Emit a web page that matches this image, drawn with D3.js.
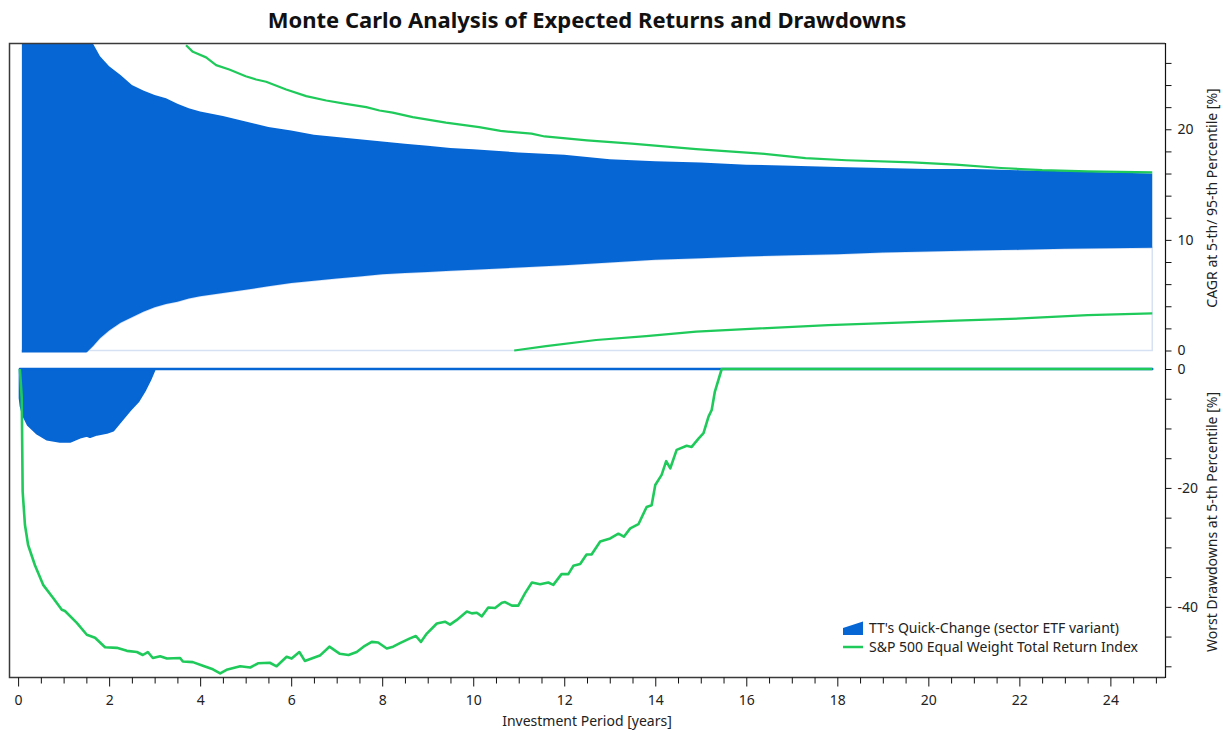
<!DOCTYPE html>
<html>
<head>
<meta charset="utf-8">
<script src="https://cdn.jsdelivr.net/npm/d3@7"></script>
<style>
  html, body { margin: 0; padding: 0; background: #ffffff; }
  svg { display: block; font-family: "Noto Sans", "Open Sans", sans-serif; }
</style>
</head>
<body>
<svg id="chart" width="1223" height="730"></svg>
<script>
// ---- Series names ----
const seriesNames = ["TT's Quick-Change (sector ETF variant)", "S&P 500 Equal Weight Total Return Index"];

// ---- CAGR band of the strategy (5th / 95th percentile, %) ----
const bandYears = [0.083, 0.25, 0.5, 0.75, 1.0, 1.25, 1.5, 1.65, 1.8, 2.0, 2.25, 2.5, 2.75, 3.0, 3.25, 3.5, 3.75, 4.0, 4.5, 5.0,
  5.5, 6.0, 6.5, 7.0, 7.5, 8.0, 8.5, 9.0, 9.5, 10.0, 11, 12, 13, 14, 15, 16, 17, 18, 19, 20, 21, 22, 23, 24, 24.92];
const cagrUpper = [45, 40, 36, 33, 31, 29.5, 28.4, 27.7, 26.6, 25.7, 24.9, 24.0, 23.5, 23.1, 22.8, 22.3, 21.9, 21.6, 21.2, 20.7,
  20.2, 19.9, 19.5, 19.3, 19.1, 18.9, 18.7, 18.5, 18.3, 18.2, 17.9, 17.7, 17.3, 17.1, 17.0, 16.8, 16.7, 16.6, 16.5, 16.4, 16.4, 16.3, 16.2, 16.1, 16.0];
const cagrLower = [-30, -18, -10, -6, -3.5, -1.8, -0.2, 0.4, 1.1, 1.8, 2.5, 3.0, 3.5, 3.9, 4.2, 4.4, 4.7, 4.9, 5.2, 5.5,
  5.8, 6.1, 6.3, 6.5, 6.7, 6.9, 7.0, 7.1, 7.2, 7.3, 7.5, 7.7, 7.95, 8.2, 8.35, 8.5, 8.6, 8.7, 8.85, 8.95, 9.05, 9.1, 9.2, 9.25, 9.3];

// ---- CAGR of the benchmark, 95th percentile ----
const benchUpperYears = [3.69, 3.84, 4.13, 4.35, 4.64, 5.0, 5.23, 5.45, 5.89, 6.33, 6.77, 7.2, 7.65, 7.94, 8.23, 8.67, 9.4, 10.13, 10.6,
  11.28, 11.57, 12.5, 13.48, 14.9, 16.33, 17.3, 18.2, 19.65, 20.6, 21.6, 22.5, 23.5, 24.92];
const benchUpper = [27.6, 27.0, 26.5, 25.8, 25.4, 24.8, 24.5, 24.3, 23.6, 23.0, 22.6, 22.3, 22.0, 21.7, 21.5, 21.1, 20.6, 20.2, 19.85,
  19.6, 19.35, 19.0, 18.7, 18.2, 17.8, 17.4, 17.2, 17.0, 16.8, 16.5, 16.3, 16.2, 16.1];

// ---- CAGR of the benchmark, 5th percentile ----
const benchLowerYears = [10.9, 11.6, 12.7, 13.8, 14.9, 16.3, 17.8, 19.2, 20.6, 22.05, 23.5, 24.92];
const benchLower = [0, 0.4, 0.95, 1.3, 1.7, 2.0, 2.3, 2.5, 2.7, 2.9, 3.2, 3.35];

// ---- Worst drawdown of the strategy at 5th percentile (%) ----
const ddYears = [0.04, 0.06, 0.11, 0.22, 0.41, 0.63, 0.92, 1.14, 1.36, 1.51, 1.58, 1.73, 1.95, 2.09, 2.24, 2.46, 2.64, 2.79, 2.9, 3.0, 24.92];
const ddStrategy = [-4.9, -6.2, -7.7, -9.4, -10.8, -11.8, -12.2, -12.2, -11.5, -11.2, -11.4, -11.0, -10.7, -10.3, -8.9, -6.9, -5.4, -3.5, -1.8, 0, 0];

// ---- Worst drawdown of the benchmark at 5th percentile (%) ----
const ddBenchYears = [0.04, 0.08, 0.1, 0.15, 0.22, 0.37, 0.55, 0.77, 0.96, 1.03, 1.29, 1.51, 1.69, 1.91, 2.17, 2.39, 2.61, 2.74, 2.85, 2.96,
  3.12, 3.27, 3.56, 3.62, 3.84, 4.06, 4.28, 4.44, 4.58, 4.88, 5.1, 5.27, 5.53, 5.68, 5.9, 6.01, 6.18, 6.3, 6.45, 6.63, 6.84,
  7.07, 7.26, 7.44, 7.59, 7.77, 7.91, 8.1, 8.24, 8.39, 8.61, 8.74, 8.85, 8.98, 9.2, 9.38, 9.49, 9.64, 9.86, 9.97, 10.08, 10.19,
  10.33, 10.48, 10.63, 10.7, 10.85, 10.99, 11.14, 11.29, 11.47, 11.65, 11.76, 11.94, 12.09, 12.2, 12.35, 12.49, 12.6, 12.79,
  13.01, 13.19, 13.31, 13.45, 13.63, 13.81, 13.92, 14.0, 14.14, 14.24, 14.33, 14.47, 14.69, 14.8, 14.95, 15.06, 15.17, 15.24,
  15.31, 15.46, 24.92];
const ddBench = [0, -4.9, -20.6, -26.2, -29.6, -33.0, -36.3, -38.5, -40.5, -40.7, -42.7, -44.7, -45.2, -46.8, -46.9, -47.4, -47.6, -48.1, -47.6, -48.6,
  -48.3, -48.7, -48.6, -49.2, -49.3, -49.9, -50.5, -51.2, -50.6, -50.0, -50.2, -49.5, -49.4, -50.0, -48.4, -48.7, -47.6, -49.1, -48.7, -48.2, -46.7,
  -47.9, -48.1, -47.6, -46.7, -45.9, -46.0, -47.0, -46.7, -46.1, -45.3, -44.9, -45.9, -44.5, -42.8, -42.5, -43.0, -42.2, -40.8, -41.1, -41.0, -41.6,
  -40.1, -40.2, -39.3, -39.2, -39.8, -39.8, -37.7, -35.9, -36.2, -35.9, -36.3, -34.5, -34.5, -33.1, -32.8, -31.2, -31.2, -29.0,
  -28.5, -27.7, -28.2, -26.8, -26.1, -23.2, -22.9, -19.5, -17.8, -15.5, -16.7, -13.6, -12.9, -13.1, -11.7, -10.8, -8.0, -6.9,
  -3.8, 0, 0];

// ---- Axis ticks ----
const xMajorTicks = [0, 2, 4, 6, 8, 10, 12, 14, 16, 18, 20, 22, 24];
const xMinorTicks = d3.range(0, 25.01, 0.5);
const cagrTicks = d3.range(0, 27, 2);
const cagrLabels = [0, 10, 20];
const ddTicks = d3.range(-50, 1, 5);
const ddLabels = [0, -20, -40];

// ---- Styling ----
const BLUE = "#0666d4";
const GREEN = "#1fca5b";
const TEXT = "#222222";
const FONT = 14;

// ---- Layout ----
const LEFT = 9, RIGHT = 1165, TOP = 43, BOTTOM = 677;
const TOP_PANEL_BOTTOM = 350.5, BOTTOM_PANEL_TOP = 369;

const svg = d3.select("#chart");

const x = d3.scaleLinear().domain([-0.2, 25.2]).range([LEFT, RIGHT]);
const yC = d3.scaleLinear().domain([0, 27.8]).range([TOP_PANEL_BOTTOM, TOP]);
const yD = d3.scaleLinear().domain([-51.8, 0]).range([BOTTOM, BOTTOM_PANEL_TOP]);

const defs = svg.append("defs");
defs.append("clipPath").attr("id", "clipTop")
  .append("rect").attr("x", LEFT).attr("y", TOP).attr("width", RIGHT - LEFT).attr("height", 352.5 - TOP);
defs.append("clipPath").attr("id", "clipBottom")
  .append("rect").attr("x", LEFT).attr("y", 365).attr("width", RIGHT - LEFT).attr("height", BOTTOM - 365);

// Title
svg.append("text")
  .attr("x", (LEFT + RIGHT) / 2).attr("y", 28)
  .attr("text-anchor", "middle")
  .attr("font-size", 22).attr("font-weight", "bold")
  .attr("fill", "#111")
  .text("Monte Carlo Analysis of Expected Returns and Drawdowns");

// ---- Top panel: CAGR ----
const band = bandYears.map((t, i) => ({ t, lo: cagrLower[i], hi: cagrUpper[i] }));
const gTop = svg.append("g").attr("clip-path", "url(#clipTop)");

// outline of the region below the 5th percentile
gTop.append("path")
  .datum(band)
  .attr("d", d3.area().x(d => x(d.t)).y0(yC(0)).y1(d => yC(d.lo)))
  .attr("fill", "none")
  .attr("stroke", "#d6e2f3")
  .attr("stroke-width", 1.5);

gTop.append("path")
  .datum(band)
  .attr("d", d3.area().x(d => x(d.t)).y0(d => yC(d.lo)).y1(d => yC(d.hi)))
  .attr("fill", BLUE);

const lineC = d3.line().x(d => x(d[0])).y(d => yC(d[1]));
gTop.append("path")
  .datum(benchUpperYears.map((t, i) => [t, benchUpper[i]]))
  .attr("d", lineC)
  .attr("fill", "none").attr("stroke", GREEN).attr("stroke-width", 2.2).attr("stroke-linejoin", "round");
gTop.append("path")
  .datum(benchLowerYears.map((t, i) => [t, benchLower[i]]))
  .attr("d", lineC)
  .attr("fill", "none").attr("stroke", GREEN).attr("stroke-width", 2.2).attr("stroke-linejoin", "round");

// ---- Bottom panel: drawdowns ----
const gBot = svg.append("g").attr("clip-path", "url(#clipBottom)");
gBot.append("path")
  .datum(ddYears.map((t, i) => [t, ddStrategy[i]]))
  .attr("d", d3.area().x(d => x(d[0])).y0(yD(0)).y1(d => yD(d[1])))
  .attr("fill", BLUE)
  .attr("stroke", BLUE).attr("stroke-width", 2.5).attr("stroke-linejoin", "round");

gBot.append("path")
  .datum(ddBenchYears.map((t, i) => [t, ddBench[i]]))
  .attr("d", d3.line().x(d => x(d[0])).y(d => yD(d[1])))
  .attr("fill", "none").attr("stroke", GREEN).attr("stroke-width", 2.6).attr("stroke-linejoin", "round");

// ---- Frame ----
svg.append("path")
  .attr("d", `M${RIGHT},${TOP + 0.5}H${LEFT + 0.5}V${BOTTOM + 0.5}H${RIGHT}`)
  .attr("fill", "none").attr("stroke", "#3a3a3a").attr("stroke-width", 1.5);

// ---- Right axes ----
function styleAxis(g) {
  g.select(".domain").remove();
  g.selectAll(".tick line").attr("stroke", "#111");
  g.selectAll(".tick text").attr("fill", TEXT).attr("font-size", FONT).attr("font-family", "Noto Sans, sans-serif");
}

svg.append("g")
  .attr("transform", `translate(${RIGHT + 0.5},0)`)
  .call(d3.axisRight(yC).tickValues(cagrTicks).tickSize(6).tickPadding(6)
    .tickFormat(v => cagrLabels.includes(v) ? String(v) : ""))
  .call(styleAxis);

svg.append("g")
  .attr("transform", `translate(${RIGHT + 0.5},0)`)
  .call(d3.axisRight(yD).tickValues(ddTicks).tickSize(6).tickPadding(6)
    .tickFormat(v => ddLabels.includes(v) ? String(v) : ""))
  .call(styleAxis);

svg.append("line")
  .attr("x1", RIGHT + 0.5).attr("x2", RIGHT + 0.5)
  .attr("y1", TOP).attr("y2", BOTTOM + 1)
  .attr("stroke", "#111").attr("stroke-width", 1.2);

// ---- Bottom axis ----
svg.append("g")
  .attr("transform", `translate(0,${BOTTOM + 0.5})`)
  .call(d3.axisBottom(x).tickValues(xMinorTicks.filter(v => v % 2 !== 0)).tickSize(6).tickFormat(""))
  .call(styleAxis);

svg.append("g")
  .attr("transform", `translate(0,${BOTTOM + 0.5})`)
  .call(d3.axisBottom(x).tickValues(xMajorTicks).tickSize(9).tickPadding(9).tickFormat(d => String(d)))
  .call(styleAxis);

// Axis titles
svg.append("text")
  .attr("x", (LEFT + RIGHT) / 2).attr("y", 726)
  .attr("text-anchor", "middle").attr("font-size", FONT).attr("fill", TEXT)
  .text("Investment Period [years]");

svg.append("text")
  .attr("transform", "translate(1217,198) rotate(-90)")
  .attr("text-anchor", "middle").attr("font-size", FONT).attr("fill", TEXT)
  .text("CAGR at 5-th/ 95-th Percentile [%]");

svg.append("text")
  .attr("transform", "translate(1217,522) rotate(-90)")
  .attr("text-anchor", "middle").attr("font-size", FONT).attr("fill", TEXT)
  .text("Worst Drawdowns at 5-th Percentile [%]");

// ---- Legend ----
const legend = svg.append("g").attr("transform", "translate(843,621)");
legend.append("path")
  .attr("d", "M0,7 L20,0.5 L20,14 L0,14 Z")
  .attr("fill", BLUE);
legend.append("text")
  .attr("x", 26).attr("y", 7.5).attr("dy", "0.35em")
  .attr("font-size", FONT).attr("fill", TEXT)
  .text(seriesNames[0]);
legend.append("line")
  .attr("x1", 0).attr("x2", 20).attr("y1", 26).attr("y2", 26)
  .attr("stroke", GREEN).attr("stroke-width", 2.5);
legend.append("text")
  .attr("x", 26).attr("y", 26).attr("dy", "0.35em")
  .attr("font-size", FONT).attr("fill", TEXT)
  .text(seriesNames[1]);
</script>
</body>
</html>
